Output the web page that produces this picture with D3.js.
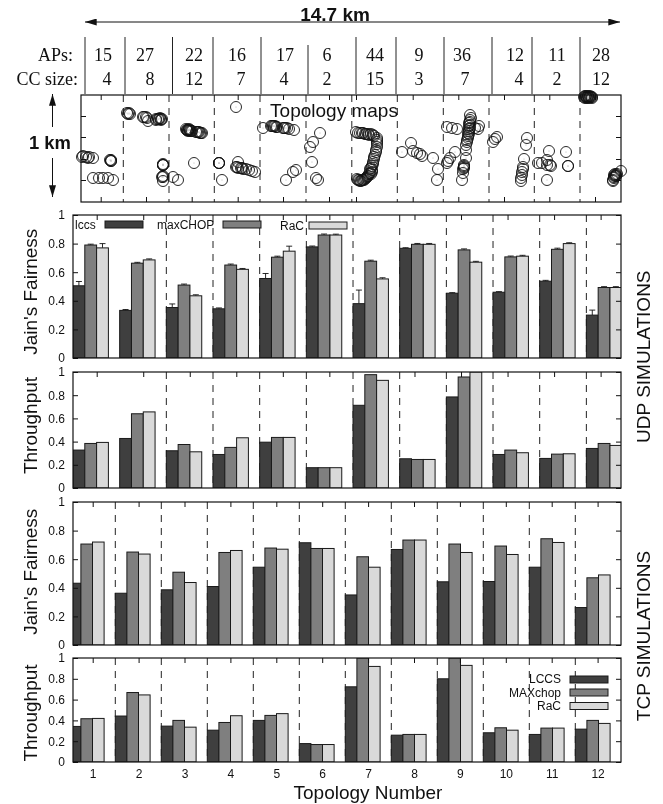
<!DOCTYPE html>
<html>
<head>
<meta charset="utf-8">
<script src="https://cdn.jsdelivr.net/npm/d3@7"></script>
<style>
  html, body { margin: 0; padding: 0; background: #fff; }
  svg { display: block; filter: blur(0.3px); }
  text { font-family: "Liberation Sans", Arial, sans-serif; fill: #111; }
  .serif { font-family: "Liberation Serif", "Times New Roman", serif; }
</style>
</head>
<body>
<svg id="chart" width="663" height="804"></svg>
<script>
// Values
var topologies = [1,2,3,4,5,6,7,8,9,10,11,12];
var apCounts = [15,27,22,16,17,6,44,9,36,12,11,28];
var ccSizes = [4,8,12,7,4,2,15,3,7,4,2,12];
var yTicks = [0,0.2,0.4,0.6,0.8,1];

// UDP fairness
var udpFairLccs = [0.505,0.333,0.353,0.344,0.556,0.777,0.38,0.767,0.453,0.46,0.537,0.30];
var udpFairMax = [0.79,0.663,0.51,0.65,0.705,0.86,0.677,0.795,0.756,0.707,0.76,0.493];
var udpFairRac = [0.77,0.686,0.435,0.62,0.747,0.86,0.553,0.795,0.67,0.712,0.80,0.493];
var udpErrLccs = [0.03,0.006,0.025,0.006,0.035,0.006,0.095,0.004,0.004,0.004,0.006,0.035];
var udpErrMax = [0.006,0.006,0.007,0.007,0.007,0.007,0.007,0.006,0.007,0.006,0.008,0.006];
var udpErrRac = [0.03,0.007,0.007,0.006,0.035,0.006,0.008,0.006,0.006,0.006,0.006,0.006];

// UDP throughput
var udpTputLccs = [0.327,0.427,0.321,0.289,0.395,0.175,0.713,0.252,0.785,0.289,0.255,0.341];
var udpTputMax = [0.384,0.64,0.375,0.35,0.436,0.175,0.977,0.246,0.957,0.327,0.292,0.384];
var udpTputRac = [0.393,0.656,0.312,0.433,0.436,0.175,0.928,0.246,1,0.304,0.295,0.367];

// TCP fairness
var tcpFairLccs = [0.432,0.362,0.386,0.409,0.544,0.715,0.35,0.668,0.442,0.444,0.544,0.262];
var tcpFairMax = [0.706,0.65,0.509,0.647,0.678,0.675,0.617,0.734,0.706,0.692,0.743,0.47];
var tcpFairRac = [0.72,0.636,0.437,0.661,0.67,0.675,0.544,0.734,0.647,0.633,0.717,0.49];

// TCP throughput
var tcpTputLccs = [0.342,0.442,0.345,0.306,0.40,0.177,0.723,0.258,0.80,0.281,0.265,0.316];
var tcpTputMax = [0.416,0.668,0.40,0.38,0.448,0.168,1,0.265,1,0.329,0.326,0.40];
var tcpTputRac = [0.419,0.645,0.335,0.445,0.465,0.168,0.919,0.265,0.929,0.306,0.326,0.371];

// AP locations on the strip, in map units (540 wide, 107 high)
var mapPoints = [
  [1,45],[2,46],[5,45],[7,44],[8,45],[12,44],[30,42],[29,42],[30,41],[30,41],[12,24],[18,24],[22,24],[27,24],[32,22],
  [46,89],[47,88],[48,89],[49,88],[62,85],[63,85],[65,85],[66,84],[67,81],[75,83],[75,82],[77,83],[78,83],[79,84],[80,83],[80,82],[81,83],
  [82,37],[82,37],[82,38],[82,37],[82,25],[82,26],[81,25],[82,21],[92,25],[97,22],
  [105,73],[106,72],[106,72],[107,72],[107,71],[108,72],[108,73],[109,71],[109,72],[110,71],[111,71],[115,70],[116,70],[117,70],[118,70],[119,69],[120,69],[121,69],[113,39],
  [155,95],[138,39],[138,39],[138,39],[141,22],[157,40],[155,35],[156,35],[157,34],[160,34],[161,34],[162,33],[165,33],[168,32],[171,31],[174,30],
  [182,74],[190,76],[191,76],[192,76],[193,76],[194,76],[195,75],[196,75],[202,74],[203,74],[204,74],[206,74],[208,73],[213,72],[205,22],[212,30],[215,32],
  [239,69],[232,60],[229,55],[231,40],[235,24],[237,22],
  [275,70],[277,69],[279,69],[281,69],[282,69],[284,68],[285,68],[287,68],[288,67],[290,68],[292,67],[293,66],[296,64],[296,62],[296,60],[296,58],[296,55],[295,52],[295,50],[294,47],[293,45],[293,43],[292,40],[292,38],[291,36],[290,34],[289,33],[291,32],[291,30],[289,29],[290,28],[288,28],[287,26],[286,25],[285,24],[284,23],[283,22],[282,22],[281,22],[280,21],[279,21],[278,22],[277,22],[276,23],
  [321,50],[330,59],[332,51],[336,49],[339,48],[341,46],[352,44],[357,33],[356,22],
  [366,75],[371,74],[376,73],[389,87],[390,84],[389,82],[389,80],[388,79],[389,77],[388,76],[389,74],[398,76],[397,73],[394,74],[388,73],[388,71],[387,69],[388,68],[387,66],[387,64],[386,62],[386,60],[385,57],[385,52],[385,44],[374,50],[369,44],[367,41],[366,39],[383,37],[383,36],[383,35],[383,34],[382,33],[382,29],[381,22],
  [416,65],[414,63],[412,60],[446,64],[445,57],[443,43],[442,35],[442,33],[441,30],[441,27],[440,24],[440,21],
  [457,39],[461,39],[466,37],[468,51],[466,42],[469,37],[470,36],[466,22],[485,50],[487,36],[487,36],
  [503,105],[504,106],[504,104],[505,105],[505,106],[506,105],[506,104],[507,105],[507,106],[508,105],[508,104],[509,105],[509,106],[510,105],[511,105],[511,104],
  [540,31],[536,28],[535,27],[534,28],[535,26],[534,26],[533,27],[533,25],[533,24],[532,22],[532,21]
];

// Where things go on the page
var plotLeft = 73, plotRight = 621;
var mapLeft = 81, mapRight = 621, mapTop = 95, mapBottom = 202;
var fills = ["#3f3f3f", "#7f7f7f", "#d9d9d9"];
var edge = "#1a1a1a";

var svg = d3.select("#chart");

// Top header: span arrow, AP and CC counts
var defs = svg.append("defs");
defs.append("marker")
  .attr("id", "head")
  .attr("viewBox", "0 0 10 6")
  .attr("refX", 10).attr("refY", 3)
  .attr("markerWidth", 14).attr("markerHeight", 7)
  .attr("markerUnits", "userSpaceOnUse")
  .attr("orient", "auto-start-reverse")
  .append("path")
  .attr("d", "M0,0L10,3L0,6z")
  .attr("fill", "#111");

function arrow(x1, y1, x2, y2) {
  svg.append("line")
    .attr("x1", x1).attr("y1", y1).attr("x2", x2).attr("y2", y2)
    .attr("stroke", "#111").attr("stroke-width", 1)
    .attr("marker-end", "url(#head)");
}
arrow(335, 22, 85, 22);
arrow(335, 22, 620, 22);

svg.append("text").attr("x", 335).attr("y", 21)
  .attr("text-anchor", "middle")
  .attr("font-size", 19).attr("font-weight", "bold")
  .text("14.7 km");

var separatorX = [85,125,172.5,213,261,308,356,396,444,492,532,580];
svg.selectAll(".sep").data(separatorX).enter().append("line")
  .attr("class", "sep")
  .attr("x1", function(d) { return d; })
  .attr("x2", function(d) { return d; })
  .attr("y1", function(d, i) { return i == 5 ? 45 : 37; })
  .attr("y2", 94)
  .attr("stroke", "#222").attr("stroke-width", 1);

var apLabelX = [103,145,194,237,285,327,375,419,462,515,557,601];
var ccLabelX = [107,150,194,241,284,327,375,419,465,519,557,601];

function rowLabels(values, xs, y, head, headX) {
  svg.append("text").attr("class", "serif")
    .attr("x", headX).attr("y", y)
    .attr("text-anchor", "end").attr("font-size", 18)
    .text(head);
  svg.selectAll(".row" + head.charAt(0)).data(values).enter().append("text")
    .attr("class", "serif row" + head.charAt(0))
    .attr("x", function(d, i) { return xs[i]; })
    .attr("y", y)
    .attr("text-anchor", "middle").attr("font-size", 18)
    .text(function(d) { return d; });
}
rowLabels(apCounts, apLabelX, 61, "APs:", 73);
rowLabels(ccSizes, ccLabelX, 85, "CC size:", 78);

// Topology strip
var mapX = d3.scaleLinear().domain([0, 540]).range([mapLeft, mapRight]);
var mapY = d3.scaleLinear().domain([0, 107]).range([mapBottom, mapTop]);
var mapDash = [42.3,88,133.3,179,225,270.8,316.3,362.3,408,453.3,499];
var mapXTicks = [19.7,65,110.7,156.7,202,248,275,331.7,377.3,423,468.3,514];
var mapYTicks = [22,43,65,86];

var mapG = svg.append("g");
mapG.selectAll(".dash").data(mapDash).enter().append("line")
  .attr("x1", function(d) { return mapX(d); })
  .attr("x2", function(d) { return mapX(d); })
  .attr("y1", mapTop).attr("y2", mapBottom)
  .attr("stroke", "#222").attr("stroke-dasharray", "7,6");

mapG.append("g").attr("transform", "translate(0," + mapBottom + ")")
  .call(d3.axisBottom(mapX).tickValues(mapXTicks).tickSize(-5).tickFormat(""))
  .call(cleanAxis);
mapG.append("g").attr("transform", "translate(0," + mapTop + ")")
  .call(d3.axisTop(mapX).tickValues(mapXTicks).tickSize(-5).tickFormat(""))
  .call(cleanAxis);
mapG.append("g").attr("transform", "translate(" + mapLeft + ",0)")
  .call(d3.axisLeft(mapY).tickValues(mapYTicks).tickSize(-5).tickFormat(""))
  .call(cleanAxis);
mapG.append("g").attr("transform", "translate(" + mapRight + ",0)")
  .call(d3.axisRight(mapY).tickValues(mapYTicks).tickSize(-5).tickFormat(""))
  .call(cleanAxis);

mapG.selectAll(".ap").data(mapPoints).enter().append("circle")
  .attr("class", "ap")
  .attr("cx", function(d) { return mapX(d[0]); })
  .attr("cy", function(d) { return mapY(d[1]); })
  .attr("r", 5.5)
  .attr("fill", "none")
  .attr("stroke", "#111").attr("stroke-width", 0.9);
mapG.selectAll(".apDot").data(mapPoints).enter().append("circle")
  .attr("class", "apDot")
  .attr("cx", function(d) { return mapX(d[0]); })
  .attr("cy", function(d) { return mapY(d[1]); })
  .attr("r", 0.4)
  .attr("fill", "#666");

mapG.append("rect")
  .attr("x", mapLeft).attr("y", mapTop)
  .attr("width", mapRight - mapLeft).attr("height", mapBottom - mapTop)
  .attr("fill", "none").attr("stroke", "#111").attr("stroke-width", 1.2);

svg.append("text").attr("x", 334).attr("y", 117)
  .attr("text-anchor", "middle").attr("font-size", 19)
  .text("Topology maps");

svg.append("text").attr("x", 50).attr("y", 149)
  .attr("text-anchor", "middle").attr("font-size", 18.4).attr("font-weight", "bold")
  .text("1 km");
arrow(52.5, 127, 52.5, 94);
arrow(52.5, 158, 52.5, 197);

function cleanAxis(g) {
  g.select(".domain").remove();
  g.selectAll(".tick line").attr("stroke", "#111").attr("stroke-width", 1);
}

// One bar panel, gnuplot style
function drawPanel(p) {
  var y = d3.scaleLinear().domain([0, 1]).range([p.bottom, p.top]);
  var x = d3.scaleLinear().domain([1, 12]).range([p.firstGroup, p.firstGroup + 11 * p.groupStep]);
  var tickX = d3.scaleLinear().domain([1, 12]).range([p.firstTick, p.firstTick + 11 * p.tickStep]);
  var g = svg.append("g");

  var clipId = "clip" + p.top;
  defs.append("clipPath").attr("id", clipId).append("rect")
    .attr("x", plotLeft).attr("y", p.top)
    .attr("width", plotRight - plotLeft).attr("height", p.bottom - p.top);

  var inside = g.append("g").attr("clip-path", "url(#" + clipId + ")");

  inside.selectAll(".dash").data(p.dashes).enter().append("line")
    .attr("x1", function(d) { return x(d); })
    .attr("x2", function(d) { return x(d); })
    .attr("y1", p.top).attr("y2", p.bottom)
    .attr("stroke", "#222").attr("stroke-dasharray", "7,6");

  p.series.forEach(function(values, s) {
    // error bars go under the bars, only the upper half shows
    if (p.errors) {
      var errs = p.errors[s];
      var paths = values.map(function(d, i) {
        var hi = y(d + errs[i]), c = x(topologies[i]) + (s + 0.5) * p.barWidth;
        return "M" + c + "," + y(d) + "V" + hi + "M" + (c - 3) + "," + hi + "H" + (c + 3);
      });
      inside.selectAll(".err" + s).data(paths).enter().append("path")
        .attr("d", function(d) { return d; })
        .attr("fill", "none").attr("stroke", "#111").attr("stroke-width", 0.9);
    }

    inside.selectAll(".bar" + s).data(values).enter().append("rect")
      .attr("class", "bar" + s)
      .attr("x", function(d, i) { return x(topologies[i]) + s * p.barWidth; })
      .attr("y", function(d) { return y(d); })
      .attr("width", p.barWidth)
      .attr("height", function(d) { return p.bottom - y(d); })
      .attr("fill", fills[s])
      .attr("stroke", edge).attr("stroke-width", 1);
  });

  g.append("g").attr("transform", "translate(" + plotLeft + ",0)")
    .call(d3.axisLeft(y).tickValues(yTicks).tickSize(-5).tickPadding(8)
      .tickFormat(function(d) { return d; }))
    .call(cleanAxis)
    .selectAll("text").attr("font-size", 12);
  g.append("g").attr("transform", "translate(" + plotRight + ",0)")
    .call(d3.axisRight(y).tickValues(yTicks).tickSize(-5).tickFormat(""))
    .call(cleanAxis);
  g.append("g").attr("transform", "translate(0," + p.top + ")")
    .call(d3.axisTop(tickX).tickValues(p.topTicks).tickSize(-5).tickFormat(""))
    .call(cleanAxis);

  g.append("rect")
    .attr("x", plotLeft).attr("y", p.top)
    .attr("width", plotRight - plotLeft).attr("height", p.bottom - p.top)
    .attr("fill", "none").attr("stroke", "#111").attr("stroke-width", 1.2);

  g.append("text")
    .attr("transform", "translate(37," + p.labelY + ") rotate(-90)")
    .attr("text-anchor", "middle").attr("font-size", 19)
    .text(p.label);

  if (p.xLabels) {
    g.append("g").attr("transform", "translate(0," + p.bottom + ")")
      .call(d3.axisBottom(tickX).tickValues(topologies).tickSize(0).tickPadding(7)
        .tickFormat(function(d) { return d; }))
      .call(cleanAxis)
      .selectAll("text").attr("font-size", 12);
  }
}

var udpDashes = [3,4,5,6,7,8,9,10,11,12];
var tcpDashes = [2,3,4,5,6,7,8,9,10,11,12];
var udpTopTicks = [1,2,3,4,5,6,7.83,8.83,9.83,10.83,11.83];

var udpLayout = { firstGroup: 73, groupStep: 46.67, barWidth: 11.8, firstTick: 96.7, tickStep: 46.53, dashes: udpDashes, topTicks: udpTopTicks };
var tcpLayout = { firstGroup: 69.3, groupStep: 46, barWidth: 11.6, firstTick: 92.7, tickStep: 45.9, dashes: tcpDashes, topTicks: topologies };

drawPanel(Object.assign({}, udpLayout, {
  top: 215, bottom: 358, label: "Jain's Fairness", labelY: 291.7,
  series: [udpFairLccs, udpFairMax, udpFairRac],
  errors: [udpErrLccs, udpErrMax, udpErrRac]
}));
drawPanel(Object.assign({}, udpLayout, {
  top: 372, bottom: 488, label: "Throughput", labelY: 425.5,
  series: [udpTputLccs, udpTputMax, udpTputRac]
}));
drawPanel(Object.assign({}, tcpLayout, {
  top: 502, bottom: 645, label: "Jain's Fairness", labelY: 571.7,
  series: [tcpFairLccs, tcpFairMax, tcpFairRac]
}));
drawPanel(Object.assign({}, tcpLayout, {
  top: 658, bottom: 762, label: "Throughput", labelY: 713, xLabels: true,
  series: [tcpTputLccs, tcpTputMax, tcpTputRac]
}));

// Legends
function swatch(x, y, fill) {
  svg.append("rect")
    .attr("x", x).attr("y", y).attr("width", 38).attr("height", 7)
    .attr("fill", fill).attr("stroke", edge).attr("stroke-width", 1);
}
function legendText(x, y, anchor, str) {
  svg.append("text").attr("x", x).attr("y", y)
    .attr("text-anchor", anchor).attr("font-size", 12)
    .text(str);
}
legendText(75, 229, "start", "lccs");
swatch(105, 221, fills[0]);
legendText(157, 229, "start", "maxCHOP");
swatch(223, 221, fills[1]);
legendText(280, 230, "start", "RaC");
swatch(309, 222, fills[2]);

legendText(561, 683, "end", "LCCS");
swatch(570, 676, fills[0]);
legendText(561, 696.5, "end", "MAXchop");
swatch(570, 689, fills[1]);
legendText(561, 710, "end", "RaC");
swatch(570, 702.5, fills[2]);

// Side and bottom titles
function sideTitle(y, str) {
  svg.append("text")
    .attr("transform", "translate(650," + y + ") rotate(-90)")
    .attr("text-anchor", "middle").attr("font-size", 19)
    .text(str);
}
sideTitle(356.7, "UDP SIMULATIONS");
sideTitle(636, "TCP SIMULATIONS");

svg.append("text").attr("x", 368).attr("y", 799)
  .attr("text-anchor", "middle").attr("font-size", 19)
  .text("Topology Number");
</script>
</body>
</html>
